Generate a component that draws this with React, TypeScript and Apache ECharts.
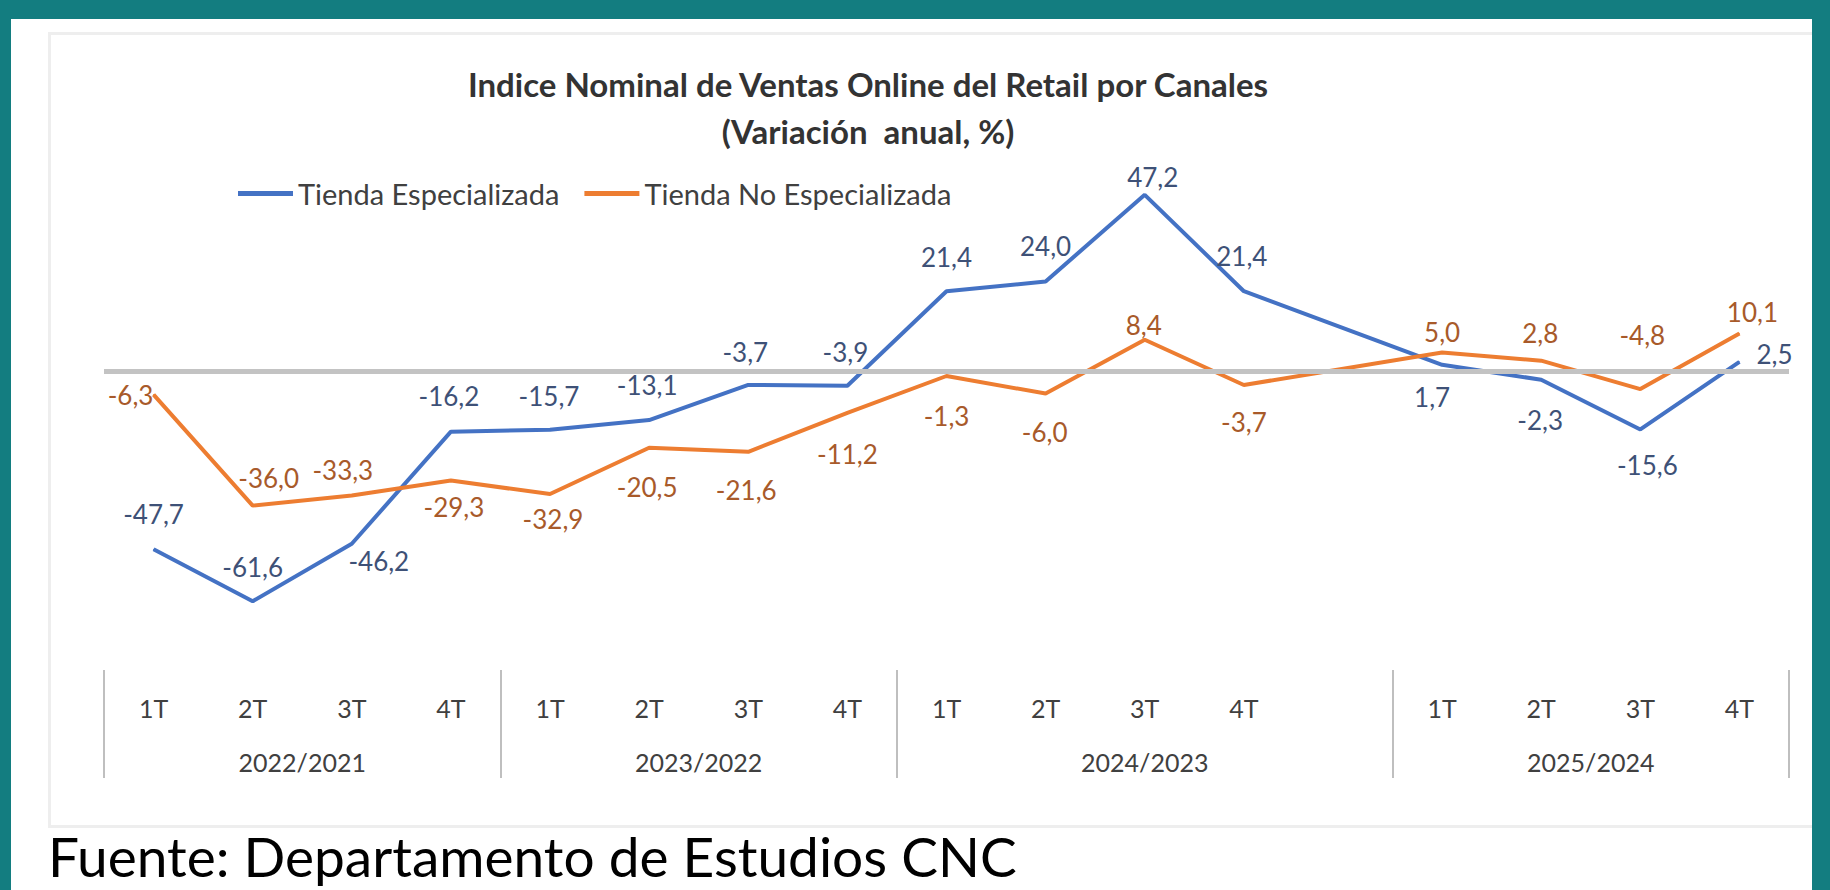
import React, { useEffect, useRef } from "react";
import * as echarts from "echarts";

// ---- Data ----
const quarterLabels = ["1T", "2T", "3T", "4T", "1T", "2T", "3T", "4T", "1T", "2T", "3T", "4T", "", "1T", "2T", "3T", "4T"];
const yearLabels = ["2022/2021", "2023/2022", "2024/2023", "2025/2024"];
const yearGroupSizes = [4, 4, 5, 4];
const especializada = [-47.7, -61.6, -46.2, -16.2, -15.7, -13.1, -3.7, -3.9, 21.4, 24.0, 47.2, 21.4, null, 1.7, -2.3, -15.6, 2.5];
const noEspecializada = [-6.3, -36.0, -33.3, -29.3, -32.9, -20.5, -21.6, -11.2, -1.3, -6.0, 8.4, -3.7, null, 5.0, 2.8, -4.8, 10.1];
const seriesNames = ["Tienda Especializada", "Tienda No Especializada"];
const titleText = "Indice Nominal de Ventas Online del Retail por Canales\n(Variación  anual, %)";
const sourceText = "Fuente: Departamento de Estudios CNC";

// ---- Label placement (pixel offsets of each data label from its point) ----
const espLabelOffset: (number[] | null)[] = [
  [0, -35], [0, -34], [27, 17], [-2, -36], [-1, -34], [-2, -35], [-3, -33], [-2, -34],
  [0, -34], [0, -35], [8, -18], [-2, -35], null, [-10, 32], [-1, 40], [7, 36], [35, -8],
];
const noEspLabelOffset: (number[] | null)[] = [
  [-23, 0], [16, -28], [-9, -26], [3, 26], [3, 25], [-2, 39], [-2, 38], [0, 41],
  [0, 40], [-1, 38], [-1, -15], [0, 37], null, [0, -20], [-1, -28], [2, -54], [13, -21],
];

const BLUE = "#4472C4";
const ORANGE = "#ED7D31";
const BLUE_LABEL = "#3E5177";
const ORANGE_LABEL = "#A85A2A";
const FONT = "Lato";

const fmt = (v: number) => v.toFixed(1).replace(".", ",");

function buildData(values: (number | null)[], offsets: (number[] | null)[]) {
  return values.map((v, i) =>
    v === null
      ? "-"
      : { value: v, label: { offset: offsets[i] || [0, 0] } }
  );
}

export default function App() {
  const ref = useRef<HTMLDivElement>(null);

  useEffect(() => {
    if (!ref.current) return;
    const chart = echarts.init(ref.current, undefined, { renderer: "svg" });

    const bounds: number[] = [0];
    yearGroupSizes.forEach((s) => bounds.push(bounds[bounds.length - 1] + s));
    const centers = yearGroupSizes.map((s, i) => bounds[i] + s / 2);

    const labelCommon = {
      show: true,
      position: "inside",
      fontFamily: FONT,
      fontSize: 26,
      formatter: (p: any) => fmt(p.value),
    };

    chart.setOption({
      animation: false,
      backgroundColor: "transparent",
      title: {
        text: titleText,
        left: 868,
        top: 60,
        padding: 0,
        textAlign: "center",
        textStyle: {
          fontFamily: FONT,
          fontWeight: "bold",
          fontSize: 33,
          lineHeight: 47,
          color: "#333333",
        },
      },
      legend: {
        left: 238,
        top: 179,
        padding: 0,
        itemWidth: 55,
        itemHeight: 5,
        itemGap: 25,
        icon: "rect",
        data: seriesNames,
        textStyle: { fontFamily: FONT, fontSize: 29, color: "#404040" },
      },
      grid: { left: 104, right: 41, top: 147, bottom: 220, containLabel: false },
      xAxis: [
        {
          type: "category",
          position: "bottom",
          data: quarterLabels,
          boundaryGap: true,
          axisLine: { show: false },
          axisTick: { show: false },
          splitLine: { show: false },
          axisLabel: {
            interval: 0,
            margin: 25,
            fontFamily: FONT,
            fontSize: 25,
            color: "#404040",
          },
        },
        {
          type: "value",
          position: "bottom",
          min: 0,
          max: bounds[bounds.length - 1],
          axisLine: { show: false },
          splitLine: { show: false },
          axisTick: {
            show: true,
            customValues: bounds,
            length: 108,
            lineStyle: { color: "#BFBFBF", width: 2 },
          },
          axisLabel: {
            customValues: centers,
            margin: 79,
            fontFamily: FONT,
            fontSize: 25,
            color: "#404040",
            formatter: (v: number) => {
              const idx = centers.findIndex((c) => Math.abs(c - v) < 1e-6);
              return idx >= 0 ? yearLabels[idx] : "";
            },
          },
        },
      ],
      yAxis: {
        type: "value",
        min: -80,
        max: 60,
        show: false,
        splitLine: { show: false },
      },
      graphic: [
        {
          type: "text",
          x: 48,
          y: 856,
          style: {
            text: sourceText,
            font: `55px ${FONT}`,
            fill: "#000000",
            verticalAlign: "middle",
            align: "left",
          },
        },
      ],
      series: [
        {
          name: seriesNames[0],
          type: "line",
          xAxisIndex: 0,
          data: buildData(especializada, espLabelOffset),
          connectNulls: true,
          symbol: "circle",
          symbolSize: 1,
          showSymbol: true,
          itemStyle: { color: BLUE },
          lineStyle: { color: BLUE, width: 4 },
          label: { ...labelCommon, color: BLUE_LABEL },
          z: 3,
          markLine: {
            silent: true,
            symbol: ["none", "none"],
            label: { show: false },
            lineStyle: { color: "#C3C3C3", width: 5, type: "solid" },
            data: [{ yAxis: 0 }],
          },
        },
        {
          name: seriesNames[1],
          type: "line",
          xAxisIndex: 0,
          data: buildData(noEspecializada, noEspLabelOffset),
          connectNulls: true,
          symbol: "circle",
          symbolSize: 1,
          showSymbol: true,
          itemStyle: { color: ORANGE },
          lineStyle: { color: ORANGE, width: 4 },
          label: { ...labelCommon, color: ORANGE_LABEL },
          z: 4,
        },
      ],
    });

    return () => chart.dispose();
  }, []);

  return (
    <div style={{ position: "absolute", left: 0, top: 0, width: 1830, height: 890, background: "#137D80", overflow: "hidden" }}>
      <div style={{ position: "absolute", left: 11, top: 19, width: 1801, height: 871, background: "#FFFFFF", overflow: "hidden" }}>
        <div
          style={{
            position: "absolute",
            left: 37,
            top: 13,
            width: 1800,
            height: 796,
            border: "3px solid #EEEEEE",
            boxSizing: "border-box",
          }}
        />
      </div>
      <div ref={ref} style={{ position: "absolute", left: 0, top: 0, width: 1830, height: 890 }} />
    </div>
  );
}
